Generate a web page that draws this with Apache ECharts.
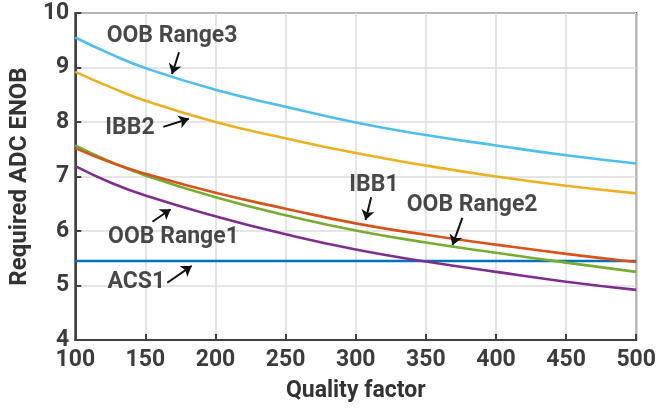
<!DOCTYPE html>
<html>
<head>
<meta charset="utf-8">
<script src="https://cdn.jsdelivr.net/npm/echarts@6/dist/echarts.min.js"></script>
<style>html,body{margin:0;padding:0;background:#fff}#c{width:659px;height:409px}</style>
</head>
<body>
<div id="c"></div>
<script>
var quality   = [100, 125, 150, 200, 250, 300, 350, 400, 450, 500];
var acs1      = [5.45, 5.45, 5.45, 5.45, 5.45, 5.45, 5.45, 5.45, 5.45, 5.45];
var ibb1      = [7.52, 7.26, 7.05, 6.70, 6.41, 6.14, 5.93, 5.75, 5.58, 5.43];
var ibb2      = [8.92, 8.64, 8.39, 8.00, 7.70, 7.43, 7.20, 7.00, 6.83, 6.69];
var oobRange1 = [7.19, 6.89, 6.65, 6.27, 5.94, 5.66, 5.44, 5.25, 5.07, 4.92];
var oobRange2 = [7.57, 7.27, 7.02, 6.62, 6.29, 6.01, 5.79, 5.60, 5.42, 5.25];
var oobRange3 = [9.55, 9.25, 8.99, 8.59, 8.28, 7.99, 7.76, 7.57, 7.39, 7.24];
var xTicks = [100, 150, 200, 250, 300, 350, 400, 450, 500];
var yTicks = [4, 5, 6, 7, 8, 9, 10];

// annotation labels and arrows, in data units
var labelNames = ['OOB Range3', 'IBB2', 'OOB Range1', 'ACS1', 'IBB1', 'OOB Range2'];
var labelX = [169, 139, 170, 143.5, 313, 383];
var labelY = [9.57, 7.89, 5.89, 5.06, 6.84, 6.48];
var arrowFrom = [[174, 9.28], [162.8, 7.91], [155, 6.17], [165.6, 5.05], [311, 6.62], [376, 6.24]];
var arrowTo   = [[169, 8.88], [181, 8.06], [168, 6.40], [183, 5.36], [307, 6.20], [369, 5.74]];

var FONT = "'Roboto', 'Liberation Sans', sans-serif";

function pairs(ys) { return quality.map(function (q, i) { return [q, ys[i]]; }); }
function lineSeries(name, ys, color) {
  return { name: name, type: 'line', data: pairs(ys), smooth: 0.5, showSymbol: false,
    lineStyle: { color: color, width: 2.6 }, itemStyle: { color: color }, z: 3 };
}

var chart = echarts.init(document.getElementById('c'));
chart.setOption({
  animation: false,
  grid: { left: 67, right: 19, top: 13, bottom: 69, show: true, borderColor: '#404040', borderWidth: 2, backgroundColor: 'transparent' },
  xAxis: {
    type: 'value', min: 100, max: 500, interval: 50,
    name: 'Quality factor', nameLocation: 'middle', nameGap: 40,
    nameTextStyle: { fontFamily: FONT, fontWeight: 'bold', fontSize: 23, color: '#333' },
    axisLine: { show: true, lineStyle: { color: '#404040', width: 2 } },
    axisTick: { show: true, inside: true, length: 6, lineStyle: { color: '#404040', width: 2 } },
    axisLabel: { fontFamily: FONT, fontWeight: 'bold', fontSize: 23, color: '#3c3c3c', margin: 9,
      formatter: function (v) { return xTicks.indexOf(v) >= 0 ? String(v) : ''; } },
    splitLine: { show: true, lineStyle: { color: '#dcdcdc', width: 1.5 } }
  },
  yAxis: {
    type: 'value', min: 4, max: 10, interval: 1,
    name: 'Required ADC ENOB', nameLocation: 'middle', nameGap: 40, nameRotate: 90,
    nameTextStyle: { fontFamily: FONT, fontWeight: 'bold', fontSize: 24, color: '#333' },
    axisLine: { show: true, lineStyle: { color: '#404040', width: 2 } },
    axisTick: { show: true, inside: true, length: 6, lineStyle: { color: '#404040', width: 2 } },
    axisLabel: { fontFamily: FONT, fontWeight: 'bold', fontSize: 23, color: '#3c3c3c', margin: 6,
      formatter: function (v) { return yTicks.indexOf(v) >= 0 ? String(v) : ''; } },
    splitLine: { show: true, lineStyle: { color: '#dcdcdc', width: 1.5 } }
  },
  series: [
    lineSeries('ACS1', acs1, '#0072BD'),
    lineSeries('OOB Range1', oobRange1, '#7E2F8E'),
    lineSeries('OOB Range2', oobRange2, '#77AC30'),
    lineSeries('IBB1', ibb1, '#D95319'),
    lineSeries('IBB2', ibb2, '#EDB120'),
    lineSeries('OOB Range3', oobRange3, '#4DBEEE'),
    {
      type: 'lines', coordinateSystem: 'cartesian2d', z: 5,
      symbol: ['none', 'arrow'], symbolSize: [0, 10],
      lineStyle: { color: '#111', width: 2, opacity: 1 },
      data: arrowFrom.map(function (f, i) { return { coords: [f, arrowTo[i]] }; })
    },
    {
      type: 'scatter', symbolSize: 0, z: 6, silent: true,
      data: labelNames.map(function (n, i) { return { value: [labelX[i], labelY[i]], name: n }; }),
      label: { show: true, position: 'inside', formatter: '{b}', fontFamily: FONT, fontWeight: 'bold',
        fontSize: 23, color: '#1a1a1a' }
    }
  ]
});
</script>
</body>
</html>
